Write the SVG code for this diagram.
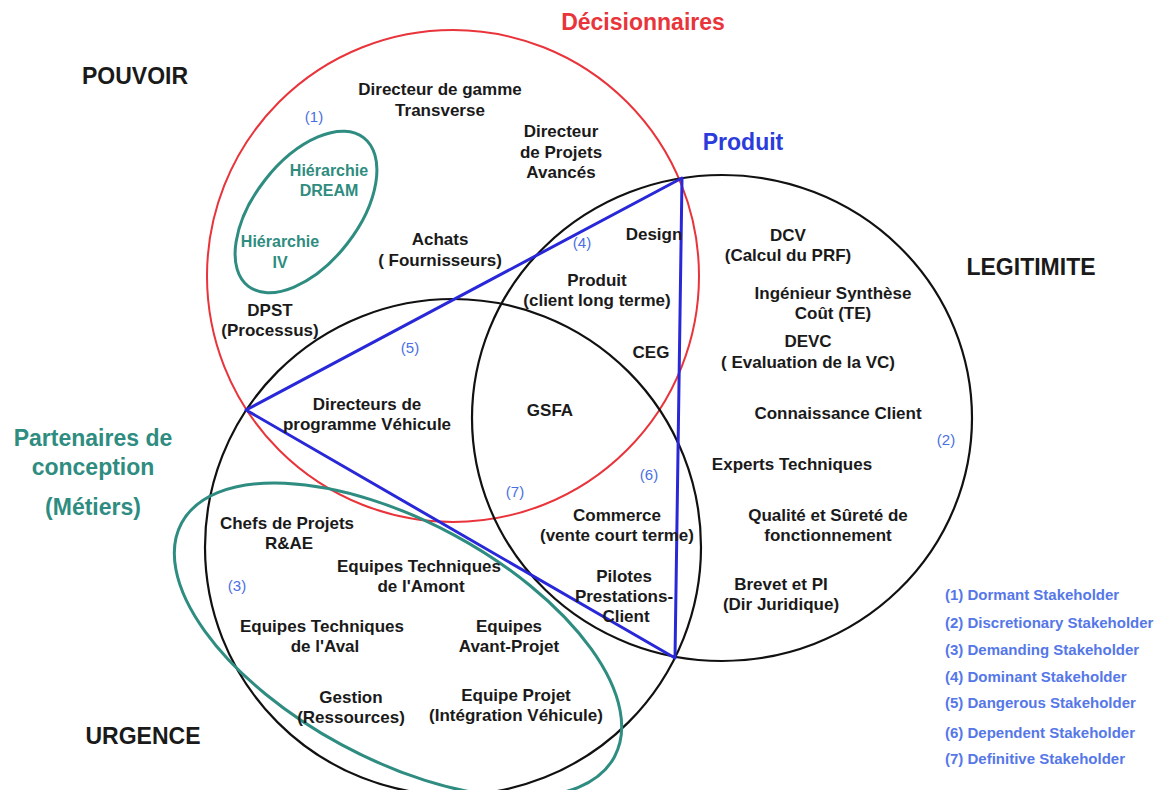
<svg xmlns="http://www.w3.org/2000/svg" width="1158" height="790" viewBox="0 0 1158 790">
<style>
.bg{fill:#fff}
.c-black{fill:none;stroke:#111;stroke-width:2.2}
.c-red{fill:none;stroke:#e8343a;stroke-width:2}
.c-teal{fill:none;stroke:#2e8c80;stroke-width:3}
.tri{fill:none;stroke:#2828d8;stroke-width:3;stroke-linejoin:round}
text{font-family:"Liberation Sans",Arial,sans-serif;text-anchor:middle}
.lbl{font-size:17px;font-weight:bold;fill:#1a1a1a}
.big{font-size:23px;font-weight:bold;fill:#1a1a1a}
.red{fill:#e8343a}
.blue{fill:#2b3bdc}
.teal{fill:#2e8c80}
.tl{font-size:16px;font-weight:bold;fill:#2e8c80}
.num{font-size:15px;fill:#4a6fe3}
.leg{font-size:15px;font-weight:bold;fill:#5577e8;text-anchor:start}
</style>
<rect class="bg" x="0" y="0" width="1158" height="790"/>

<g id="circle-decisionnaires">
  <circle class="c-red" cx="453" cy="276" r="246"/>
</g>
<g id="circle-legitimite">
  <ellipse class="c-black" cx="722" cy="418" rx="250" ry="243"/>
</g>
<g id="circle-urgence">
  <circle class="c-black" cx="453" cy="547" r="248"/>
</g>
<g id="ellipse-partenaires">
  <ellipse class="c-teal" cx="398" cy="640" rx="246" ry="119" transform="rotate(28.4 398 640)"/>
</g>
<g id="ellipse-hierarchie">
  <ellipse class="c-teal" cx="306" cy="212" rx="94" ry="52" transform="rotate(-52 306 212)"/>
</g>

<g id="connectors">
  <polygon class="tri" points="682,178 246,410 675,658"/>
</g>

<g id="titles">
  <text class="big red" x="643" y="30">Décisionnaires</text>
  <text class="big" x="135" y="84">POUVOIR</text>
  <text class="big blue" x="743" y="150">Produit</text>
  <text class="big" x="1031" y="275">LEGITIMITE</text>
  <text class="big teal" x="93" y="446">Partenaires de</text>
  <text class="big teal" x="93" y="475">conception</text>
  <text class="big teal" x="93" y="515">(Métiers)</text>
  <text class="big" x="143" y="744">URGENCE</text>
</g>

<g id="hierarchie-dream"><text class="tl" x="329" y="176">Hiérarchie</text><text class="tl" x="329" y="196">DREAM</text></g>
<g id="hierarchie-iv"><text class="tl" x="280" y="247">Hiérarchie</text><text class="tl" x="280" y="268">IV</text></g>

<g id="directeur-gamme"><text class="lbl" x="440" y="95">Directeur de gamme</text><text class="lbl" x="440" y="116">Transverse</text></g>
<g id="directeur-projets"><text class="lbl" x="561" y="137">Directeur</text><text class="lbl" x="561" y="158">de Projets</text><text class="lbl" x="561" y="178">Avancés</text></g>
<g id="design"><text class="lbl" x="654" y="240">Design</text></g>
<g id="achats"><text class="lbl" x="440" y="245">Achats</text><text class="lbl" x="440" y="266">( Fournisseurs)</text></g>
<g id="produit"><text class="lbl" x="597" y="286">Produit</text><text class="lbl" x="597" y="306">(client long terme)</text></g>
<g id="dpst"><text class="lbl" x="270" y="316">DPST</text><text class="lbl" x="270" y="336">(Processus)</text></g>
<g id="ceg"><text class="lbl" x="651" y="358">CEG</text></g>
<g id="directeurs-programme"><text class="lbl" x="367" y="410">Directeurs de</text><text class="lbl" x="367" y="430">programme Véhicule</text></g>
<g id="gsfa"><text class="lbl" x="550" y="416">GSFA</text></g>
<g id="dcv"><text class="lbl" x="788" y="241">DCV</text><text class="lbl" x="788" y="261">(Calcul du PRF)</text></g>
<g id="ingenieur"><text class="lbl" x="833" y="299">Ingénieur Synthèse</text><text class="lbl" x="833" y="319">Coût (TE)</text></g>
<g id="devc"><text class="lbl" x="808" y="347">DEVC</text><text class="lbl" x="808" y="368">( Evaluation de la VC)</text></g>
<g id="connaissance"><text class="lbl" x="838" y="419">Connaissance Client</text></g>
<g id="experts"><text class="lbl" x="792" y="470">Experts Techniques</text></g>
<g id="qualite"><text class="lbl" x="828" y="521">Qualité et Sûreté de</text><text class="lbl" x="828" y="541">fonctionnement</text></g>
<g id="commerce"><text class="lbl" x="617" y="521">Commerce</text><text class="lbl" x="617" y="541">(vente court terme)</text></g>
<g id="chefs"><text class="lbl" x="287" y="529">Chefs de Projets</text><text class="lbl" x="289" y="549">R&amp;AE</text></g>
<g id="equipes-amont"><text class="lbl" x="419" y="572">Equipes Techniques</text><text class="lbl" x="421" y="592">de l'Amont</text></g>
<g id="pilotes"><text class="lbl" x="624" y="582">Pilotes</text><text class="lbl" x="624" y="602">Prestations-</text><text class="lbl" x="626" y="622">Client</text></g>
<g id="brevet"><text class="lbl" x="781" y="590">Brevet et PI</text><text class="lbl" x="781" y="610">(Dir Juridique)</text></g>
<g id="equipes-aval"><text class="lbl" x="322" y="632">Equipes Techniques</text><text class="lbl" x="325" y="652">de l'Aval</text></g>
<g id="equipes-avant"><text class="lbl" x="509" y="632">Equipes</text><text class="lbl" x="509" y="652">Avant-Projet</text></g>
<g id="gestion"><text class="lbl" x="351" y="703">Gestion</text><text class="lbl" x="351" y="723">(Ressources)</text></g>
<g id="equipe-projet"><text class="lbl" x="516" y="701">Equipe Projet</text><text class="lbl" x="516" y="721">(Intégration Véhicule)</text></g>

<g id="numbers">
  <text class="num" x="314" y="122">(1)</text>
  <text class="num" x="946" y="445">(2)</text>
  <text class="num" x="237" y="591">(3)</text>
  <text class="num" x="582" y="248">(4)</text>
  <text class="num" x="410" y="353">(5)</text>
  <text class="num" x="649" y="480">(6)</text>
  <text class="num" x="515" y="497">(7)</text>
</g>

<g id="legend">
  <text class="leg" x="945" y="600">(1) Dormant Stakeholder</text>
  <text class="leg" x="945" y="628">(2) Discretionary Stakeholder</text>
  <text class="leg" x="945" y="655">(3) Demanding Stakeholder</text>
  <text class="leg" x="945" y="682">(4) Dominant Stakeholder</text>
  <text class="leg" x="945" y="708">(5) Dangerous Stakeholder</text>
  <text class="leg" x="945" y="738">(6) Dependent Stakeholder</text>
  <text class="leg" x="945" y="764">(7) Definitive Stakeholder</text>
</g>
</svg>
